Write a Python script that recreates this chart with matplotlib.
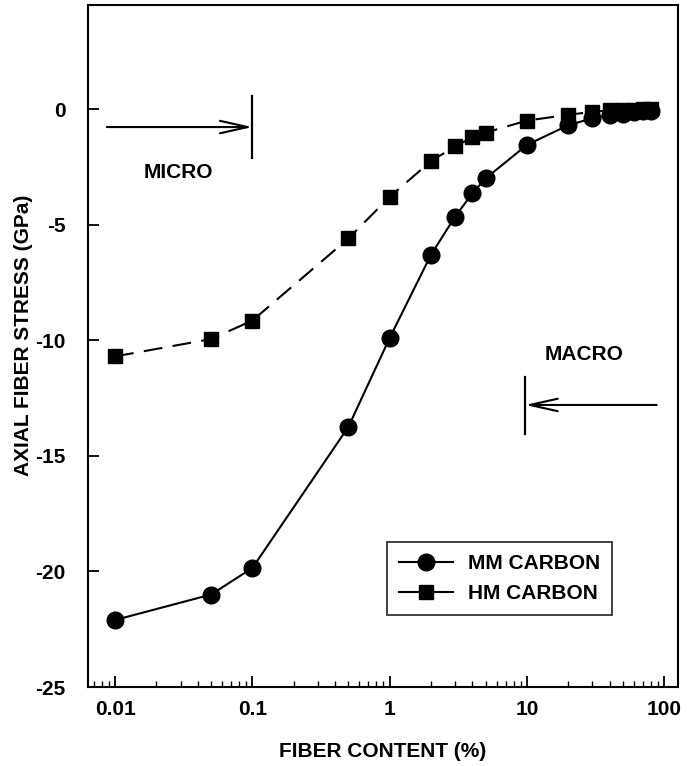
import matplotlib
matplotlib.use('Agg')
import matplotlib.pyplot as plt
from matplotlib.ticker import LogLocator, FixedLocator, NullFormatter

plt.rcParams['font.family'] = ['Liberation Sans', 'DejaVu Sans']
plt.rcParams['font.weight'] = 'bold'
plt.rcParams['axes.labelweight'] = 'bold'
plt.rcParams['axes.unicode_minus'] = False

fiber_content = [0.01, 0.05, 0.1, 0.5, 1, 2, 3, 4, 5, 10, 20, 30, 40, 50, 60, 70, 80]
mm_carbon = [-22.1, -21.0, -19.85, -13.75, -9.9, -6.3, -4.65, -3.65, -3.0, -1.55,
             -0.7, -0.4, -0.25, -0.2, -0.15, -0.1, -0.08]
hm_carbon = [-10.7, -9.95, -9.15, -5.6, -3.8, -2.25, -1.62, -1.22, -1.02, -0.5,
             -0.25, -0.12, -0.06, -0.04, -0.03, -0.02, -0.01]
x_ticks = [0.01, 0.1, 1, 10, 100]
x_tick_labels = ['0.01', '0.1', '1', '10', '100']
y_ticks = [0, -5, -10, -15, -20, -25]

fig = plt.figure(figsize=(6.87, 7.66), dpi=100)
ax = fig.add_axes([0.128, 0.1031, 0.859, 0.8904])

ax.plot(fiber_content, mm_carbon, color='black', lw=1.5, marker='o',
        markersize=12, label='MM CARBON')
ax.plot(fiber_content, hm_carbon, color='black', lw=1.5, marker='s',
        markersize=10, dashes=(9, 5), label='HM CARBON')

ax.set_xscale('log')
ax.set_xlim(0.00634, 126)
ax.set_ylim(-25, 4.5)
ax.xaxis.set_major_locator(FixedLocator(x_ticks))
ax.set_xticklabels(x_tick_labels)
ax.xaxis.set_minor_locator(LogLocator(base=10, subs=range(2, 10)))
ax.xaxis.set_minor_formatter(NullFormatter())
ax.set_yticks(y_ticks)
ax.tick_params(axis='both', which='major', direction='in', length=8, width=1.3,
               labelsize=15)
ax.tick_params(axis='x', which='major', pad=9)
ax.tick_params(axis='y', which='major', pad=16)
ax.tick_params(axis='x', which='minor', direction='in', length=4, width=1)
for s in ax.spines.values():
    s.set_linewidth(1.5)

ax.set_xlabel('FIBER CONTENT (%)', fontsize=15, labelpad=17)
ax.set_ylabel('AXIAL FIBER STRESS (GPa)', fontsize=15)
ax.yaxis.set_label_coords(-0.093, 0.516)

arrow_style = dict(arrowstyle='->,head_length=2.0,head_width=0.45',
                   color='black', lw=1.5, shrinkA=0, shrinkB=0)

# MICRO arrow
ax.annotate('', xy=(0.1, -0.78), xytext=(0.0087, -0.78), arrowprops=arrow_style)
ax.plot([0.1, 0.1], [0.55, -2.1], color='black', lw=1.6)
ax.text(0.0288, -2.75, 'MICRO', fontsize=15, ha='center', va='center')

# MACRO arrow
ax.annotate('', xy=(9.7, -12.8), xytext=(88, -12.8), arrowprops=arrow_style)
ax.plot([9.7, 9.7], [-11.6, -14.05], color='black', lw=1.6)
ax.text(26, -10.6, 'MACRO', fontsize=15, ha='center', va='center')

leg = ax.legend(loc='lower left', bbox_to_anchor=(0.506, 0.105), fontsize=15,
                frameon=True, fancybox=False, edgecolor='black',
                handlelength=2.6, handletextpad=0.7, borderpad=0.6,
                labelspacing=0.5, borderaxespad=0)
leg.get_frame().set_linewidth(1.3)
for h in leg.get_lines():
    h.set_linestyle('-')

fig.savefig('out.png', dpi=100)
